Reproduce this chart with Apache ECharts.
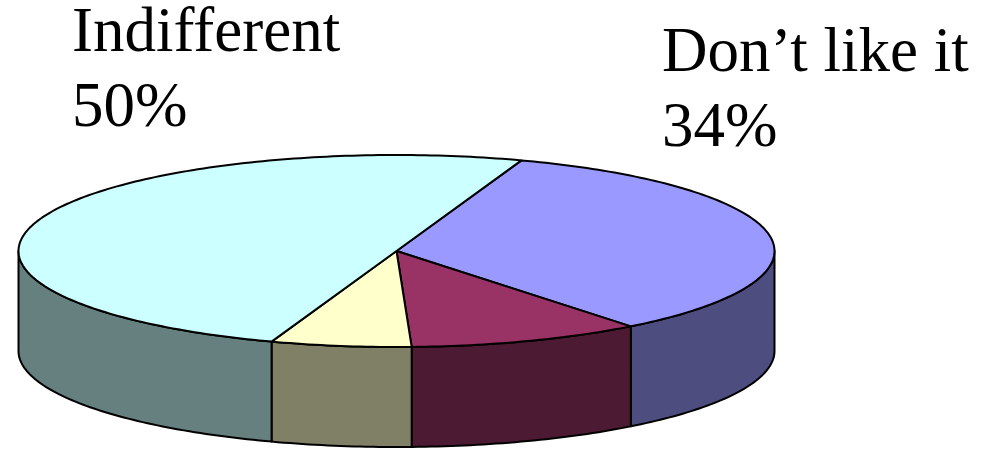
<!DOCTYPE html>
<html><head><meta charset="utf-8">
<script src="https://cdn.jsdelivr.net/npm/echarts@6/dist/echarts.min.js"></script>
<style>html,body{margin:0;padding:0;background:#fff}#c{width:994px;height:452px}</style>
</head><body><div id="c"></div>
<script>
// ---- data ----
const categories = ['Don\u2019t like it', 'Like it', 'No opinion', 'Indifferent'];
const values = [34, 10, 6, 50];
const topColors = ['#9999FF', '#993366', '#FFFFCC', '#CCFFFF'];
const sideColors = ['#4D4D80', '#4D1A33', '#808066', '#668080'];
const labeledCategories = ['Indifferent', 'Don\u2019t like it'];

// ---- layout (not data) ----
const CX = 396.5, CY = 251, RX = 378, RY = 96, DEPTH = 100, START = 70.7;
const labelPos = { 'Indifferent': [72, -3], 'Don\u2019t like it': [662, 17] };

const total = values.reduce((a, b) => a + b, 0);
function angles(idx) {
  let s = START;
  for (let i = 0; i < idx; i++) s -= values[i] / total * 360;
  return [s, s - values[idx] / total * 360];
}
function pt(a, dy) { const r = a * Math.PI / 180; return [CX + RX * Math.cos(r), CY - RY * Math.sin(r) + dy]; }
function arc(a1, a2, dy) {
  const n = Math.max(2, Math.ceil(Math.abs(a1 - a2)));
  const p = [];
  for (let i = 0; i <= n; i++) p.push(pt(a1 + (a2 - a1) * i / n, dy));
  return p;
}
const stroke = { stroke: '#000', lineWidth: 2, lineJoin: 'round' };

function renderTop(params, api) {
  const i = params.dataIndex;
  const [s, e] = angles(i);
  const pts = [[CX, CY]].concat(arc(s, e, 0));
  return { type: 'polygon', shape: { points: pts }, style: Object.assign({ fill: topColors[i] }, stroke) };
}
function renderSide(params, api) {
  const i = params.dataIndex;
  const [s, e] = angles(i); // s > e
  const children = [];
  for (let k = -2; k <= 1; k++) {
    const lo = Math.max(e, -180 + 360 * k), hi = Math.min(s, 360 * k);
    if (hi - lo > 0.01) {
      const pts = arc(hi, lo, 0).concat(arc(lo, hi, DEPTH));
      children.push({ type: 'polygon', shape: { points: pts }, style: Object.assign({ fill: sideColors[i] }, stroke) });
    }
  }
  return { type: 'group', children };
}

const chart = echarts.init(document.getElementById('c'), null, { renderer: 'canvas' });
chart.setOption({
  animation: false,
  backgroundColor: '#fff',
  series: [
    { type: 'custom', coordinateSystem: 'none', renderItem: renderSide, data: values, silent: true },
    { type: 'custom', coordinateSystem: 'none', renderItem: renderTop, data: values, silent: true }
  ],
  graphic: labeledCategories.map(name => {
    const i = categories.indexOf(name);
    return {
      type: 'text', x: labelPos[name][0], y: labelPos[name][1],
      style: {
        text: name + '\n' + Math.round(values[i] / total * 100) + '%',
        fontFamily: '"Liberation Serif", "Times New Roman", serif', fontSize: 63,
        lineHeight: 75, fill: '#000', verticalAlign: 'top', align: 'left'
      }
    };
  })
});
</script></body></html>
